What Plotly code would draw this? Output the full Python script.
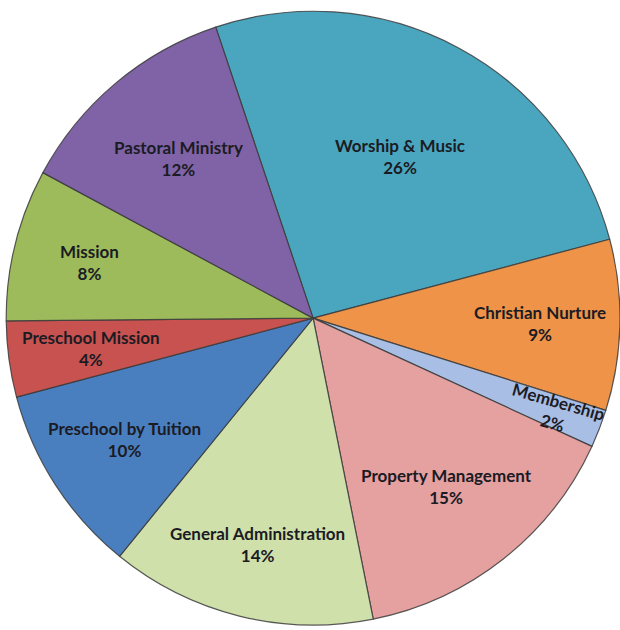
import math
import plotly.graph_objects as go

# ---- data ----
categories = ["Worship & Music", "Christian Nurture", "Membership", "Property Management",
              "General Administration", "Preschool by Tuition", "Preschool Mission",
              "Mission", "Pastoral Ministry"]
shares = [26, 9, 2, 15, 14, 10, 4, 8, 12]

# ---- style ----
colors = ["#4AA6BF", "#EE9347", "#A8BEE4", "#E5A0A0", "#CFE0AA",
          "#4A7FBF", "#C8524F", "#9DBB5A", "#8063A6"]
label_radius = [0.60, 0.74, 0.85, 0.70, 0.76, 0.73, 0.73, 0.75, 0.68]
label_angle = [0, 0, 16, 0, 0, 0, 0, 0, 0]
ROT = -18.5
W, H = 620, 630
dom_x = [0.01, 1.0]
dom_y = [0.005, 0.985]

fig = go.Figure(go.Pie(
    labels=categories, values=shares, sort=False, direction="clockwise",
    rotation=ROT, marker=dict(colors=colors, line=dict(color="rgba(60,60,60,0.85)", width=1.2)),
    textinfo="none", hoverinfo="label+percent", showlegend=False,
    domain=dict(x=dom_x, y=dom_y),
))

cx = (dom_x[0] + dom_x[1]) / 2 * W
cy = (dom_y[0] + dom_y[1]) / 2 * H  # from bottom
R = min((dom_x[1] - dom_x[0]) * W, (dom_y[1] - dom_y[0]) * H) / 2
total = sum(shares)
cum = 0
annotations = []
for cat, v, rf, ta in zip(categories, shares, label_radius, label_angle):
    mid = ROT + (cum + v / 2) / total * 360
    cum += v
    a = math.radians(mid)
    px = cx + rf * R * math.sin(a)
    py = cy + rf * R * math.cos(a)
    pct = round(v / total * 100)
    annotations.append(dict(
        x=px / W, y=py / H, xref="paper", yref="paper", showarrow=False,
        xanchor="center", yanchor="middle",
        text=f"<b>{cat}<br>{pct}%</b>", textangle=ta,
        font=dict(family="Lato", size=17, color="#1b1b24"), align="center",
    ))

fig.update_layout(
    width=W, height=H, margin=dict(l=0, r=0, t=0, b=0),
    paper_bgcolor="white", plot_bgcolor="white", annotations=annotations,
)
fig.write_html("out.html", config={"displayModeBar": False},
               post_script="document.body.style.margin='0';")
